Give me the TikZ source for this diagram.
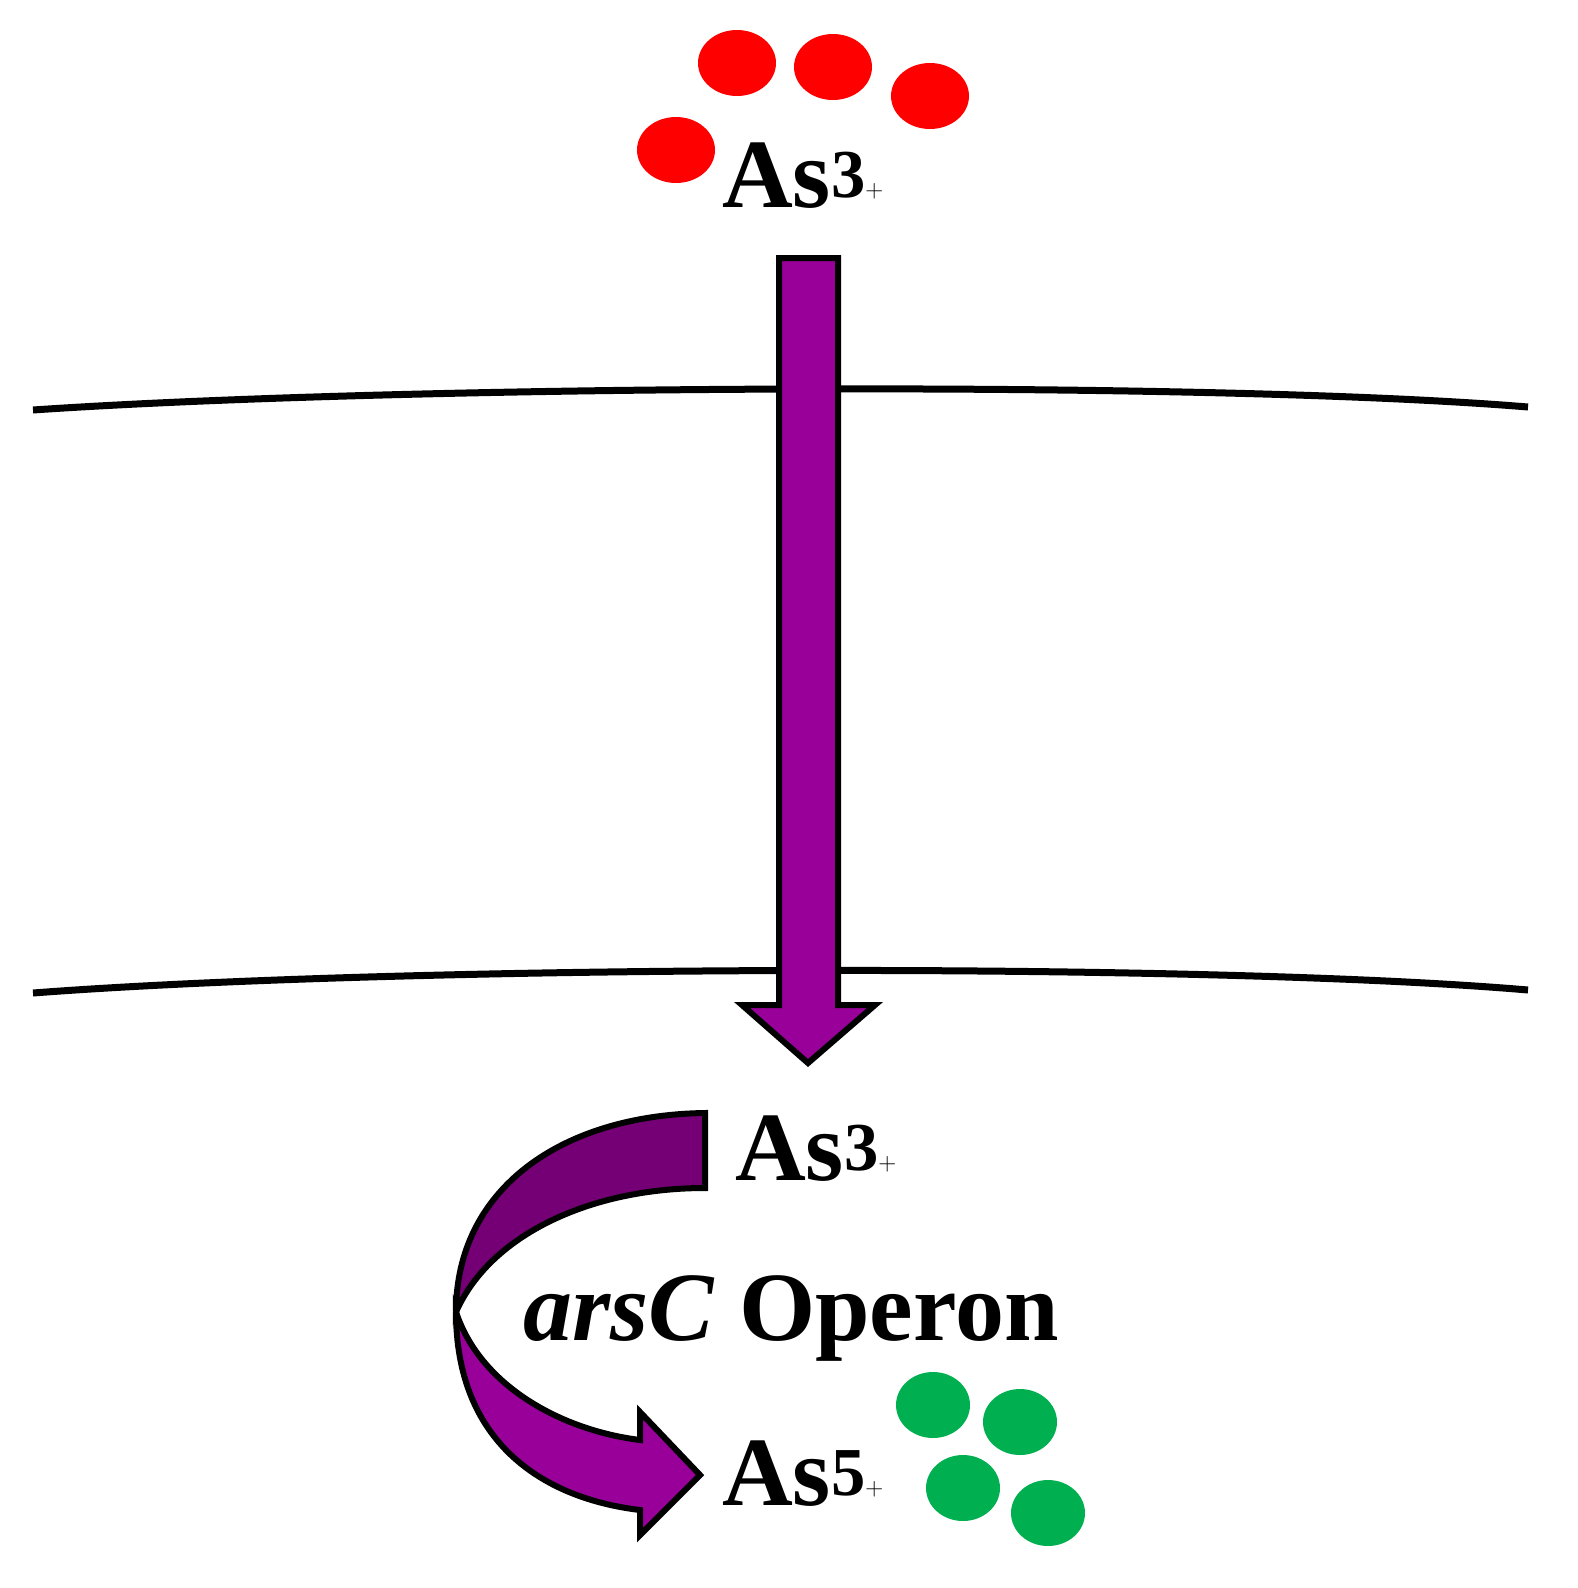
\documentclass[tikz,border=0pt]{standalone}
\usepackage{fontspec}
\setmainfont{Liberation Serif}
\begin{document}
\begin{tikzpicture}[x=1pt,y=-1pt,
  lbl/.style={anchor=base west,inner sep=0pt,font=\fontsize{98}{110}\selectfont\bfseries},
  red/.style={fill=red,draw=none},
  grn/.style={fill=green!55!black!80!cyan,draw=none},
  mem/.style={line width=7pt},
  arr/.style={line width=6pt,line join=miter}]
\useasboundingbox (0,0) rectangle (1578,1588);
\definecolor{pu}{HTML}{990099}\definecolor{dpu}{HTML}{750075}\definecolor{gr}{HTML}{00B050}
% membranes
\draw[mem] (33,410) .. controls (400,385) and (1200,380) .. (1528,407);
\draw[mem] (33,993) .. controls (400,965) and (1200,962) .. (1528,990);
% red dots
\foreach \n/\x/\y in {r1/737/63,r2/833/67,r3/930/96,r4/676/150}
  \fill[red] (\x,\y) ellipse[x radius=39,y radius=33];
\foreach \n/\x/\y in {g1/933/1405,g2/1020/1422,g3/963/1488,g4/1048/1513}
  \fill[gr] (\x,\y) ellipse[x radius=37,y radius=33];
% vertical arrow
\draw[arr,fill=pu] (779,258) -- (838,258) -- (838,1005) -- (875,1005) -- (808,1063) -- (742,1005) -- (779,1005) -- cycle;
% curved arrow
\draw[arr,fill=dpu] (705,1113) .. controls (560,1115) and (456,1190) .. (456,1312)
  .. controls (490,1235) and (590,1188) .. (705,1188) -- cycle;
\draw[arr,fill=pu] (456,1312) .. controls (456,1440) and (540,1498) .. (640,1510)
  -- (640,1535) -- (700,1475) -- (640,1412) -- (640,1440)
  .. controls (560,1430) and (480,1385) .. (456,1312) -- cycle;
% labels
\node[lbl] (t1) at (722,207) {As$^{\mathbf{3+}}$};
\node[lbl] (t2) at (735,1180) {As$^{\mathbf{3+}}$};
\node[lbl] (t3) at (523,1340) {\textit{arsC} Operon};
\node[lbl] (t4) at (722,1505) {As$^{\mathbf{5+}}$};
\end{tikzpicture}
\end{document}
